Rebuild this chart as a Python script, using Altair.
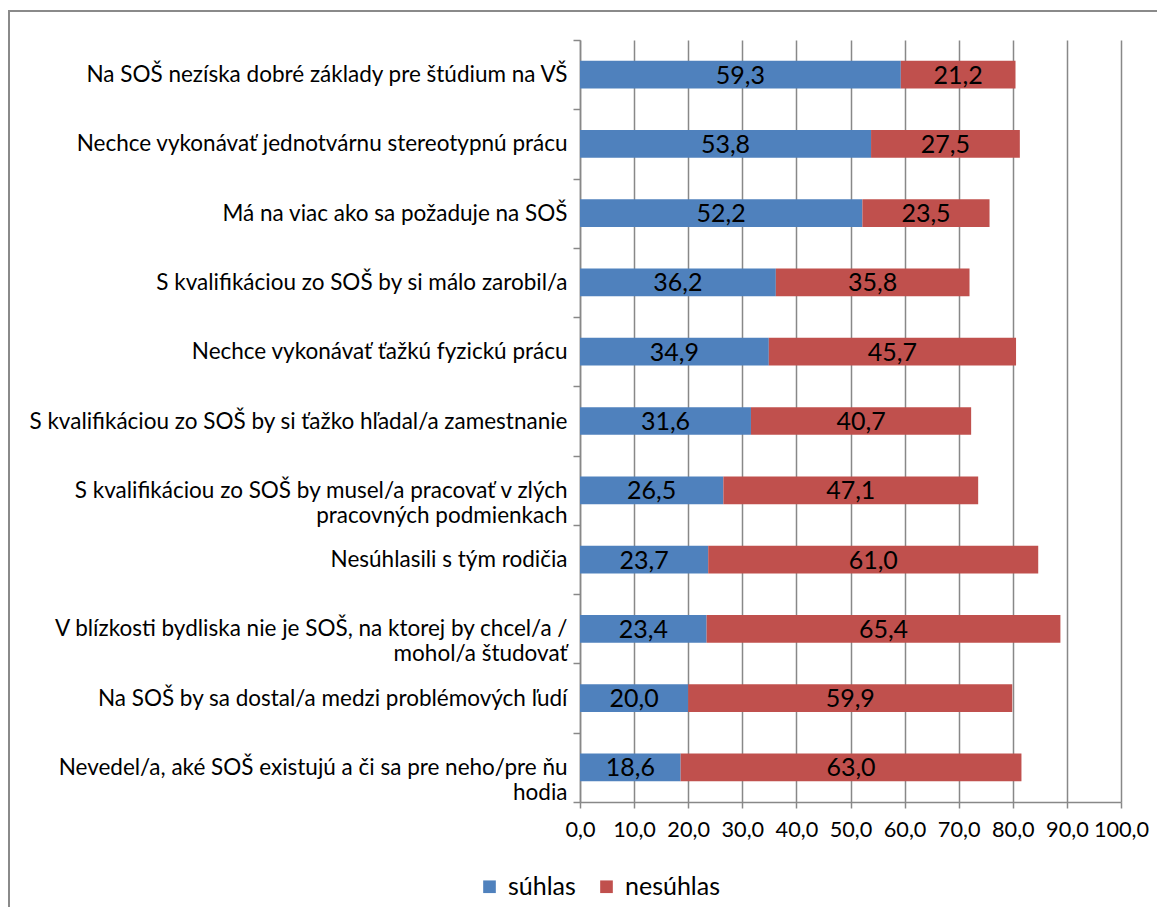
import altair as alt
import pandas as pd

categories = [
    "Na SOŠ nezíska dobré základy pre štúdium na VŠ",
    "Nechce vykonávať jednotvárnu stereotypnú prácu",
    "Má na viac ako sa požaduje na SOŠ",
    "S kvalifikáciou zo SOŠ by si málo zarobil/a",
    "Nechce vykonávať ťažkú fyzickú prácu",
    "S kvalifikáciou zo SOŠ by si ťažko hľadal/a zamestnanie",
    "S kvalifikáciou zo SOŠ by musel/a pracovať v zlých|pracovných podmienkach",
    "Nesúhlasili s tým rodičia",
    "V blízkosti bydliska nie je SOŠ, na ktorej by chcel/a /|mohol/a študovať",
    "Na SOŠ by sa dostal/a medzi problémových ľudí",
    "Nevedel/a, aké SOŠ existujú a či sa pre neho/pre ňu|hodia",
]
suhlas = [59.3, 53.8, 52.2, 36.2, 34.9, 31.6, 26.5, 23.7, 23.4, 20.0, 18.6]
nesuhlas = [21.2, 27.5, 23.5, 35.8, 45.7, 40.7, 47.1, 61.0, 65.4, 59.9, 63.0]
series = ["súhlas", "nesúhlas"]
colors = ["#4F81BD", "#C0504D"]

rows = []
for c, a, b in zip(categories, suhlas, nesuhlas):
    rows.append({"cat": c, "series": series[0], "order": 0, "value": a})
    rows.append({"cat": c, "series": series[1], "order": 1, "value": b})
df = pd.DataFrame(rows)

FONT = "Lato"
FS_Y = 22.5
FS_X = 21.7
FS_BAR = 25
FS_LEG = 25
GRID = "#888888"

base = alt.Chart(df).transform_stack(
    stack="value", as_=["x0", "x1"], groupby=["cat"],
    sort=[alt.SortField("order", order="ascending")]
).transform_calculate(
    mid="(datum.x0 + datum.x1) / 2",
    lab="replace(format(datum.value, '.1f'), '.', ',')"
)

yenc = alt.Y("cat:N", sort=categories, title=None,
             scale=alt.Scale(paddingInner=0, paddingOuter=0),
             axis=alt.Axis(labelExpr="split(datum.label, '|')",
                           labelFont=FONT, labelFontSize=FS_Y, labelColor="black",
                           labelLineHeight=25, labelPadding=6, labelLimit=700,
                           tickBand="extent", tickSize=7, tickColor=GRID,
                           tickWidth=1.5, domainColor=GRID, domainWidth=1.5,
                           grid=False))

xscale = alt.Scale(domain=[0, 100], nice=False)

bars = base.mark_bar(height={"band": 0.4}).encode(
    y=yenc,
    x=alt.X("x0:Q", scale=xscale, title=None,
            axis=alt.Axis(values=list(range(0, 101, 10)),
                          labelExpr="replace(format(datum.value, '.1f'), '.', ',')",
                          labelFont=FONT, labelFontSize=FS_X, labelColor="black",
                          labelPadding=11, tickSize=6, tickColor=GRID, tickWidth=1.5,
                          domainColor=GRID, domainWidth=1.5,
                          grid=True, gridColor=GRID, gridWidth=1.5,
                          labelFlush=False, labelOverlap=False)),
    x2="x1:Q",
    color=alt.Color("series:N", sort=series,
                    scale=alt.Scale(domain=series, range=colors),
                    legend=alt.Legend(title=None, orient="none", direction="horizontal",
                                      legendX=-103, legendY=834,
                                      symbolType="square", symbolSize=160,
                                      symbolStrokeWidth=0,
                                      labelFont=FONT, labelFontSize=FS_LEG,
                                      labelColor="black", columnPadding=18,
                                      labelOffset=6)),
)

texts = base.mark_text(font=FONT, fontSize=FS_BAR, color="black", dy=1).encode(
    y=alt.Y("cat:N", sort=categories),
    x=alt.X("mid:Q", scale=xscale),
    text="lab:N",
)

border_top = alt.Chart(df).mark_rule(color="#8a8a8a", strokeWidth=1.5).encode(
    x=alt.value(-572), x2=alt.value(700), y=alt.value(-29)
)
border_left = alt.Chart(df).mark_rule(color="#8a8a8a", strokeWidth=1.5).encode(
    x=alt.value(-571), y=alt.value(-29), y2=alt.value(900)
)

chart = alt.layer(border_top, border_left, bars, texts).properties(
    width=541, height=762,
    padding={"left": 572, "top": 32, "right": 36, "bottom": 105},
    autosize=alt.AutoSizeParams(type="none"),
).configure_view(stroke=None)

chart.save("out.html", embed_options={"renderer": "svg", "actions": False})
